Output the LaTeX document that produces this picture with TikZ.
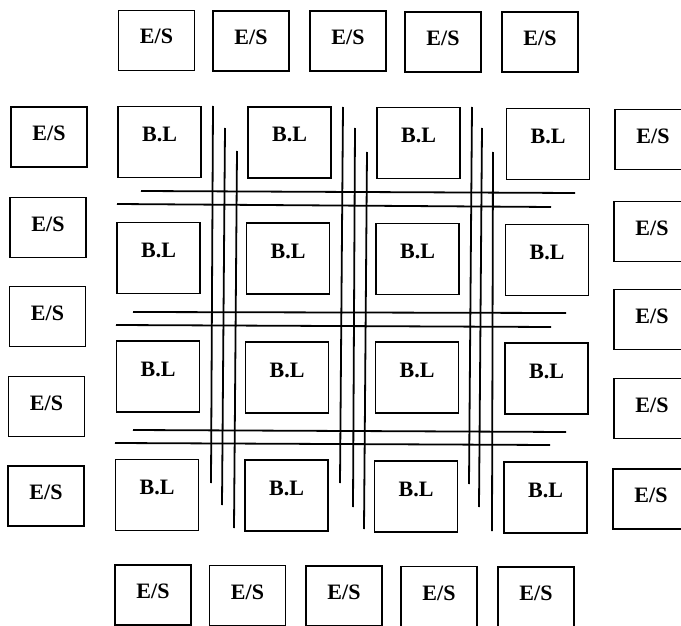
\documentclass[tikz,border=0pt]{standalone}
\usepackage{fontspec}
\setmainfont{Liberation Serif}
\begin{document}
\begin{tikzpicture}[x=1pt,y=-1pt,
  box/.style={draw, line width=1.8pt, outer sep=0pt, inner sep=0pt,
    font=\fontsize{22}{22}\selectfont\bfseries, text height=15pt},
  esbox/.style={box, minimum width=76pt, minimum height=60pt, text depth=8pt},
  blbox/.style={box, minimum width=83pt, minimum height=71pt, text depth=16pt},
  wire/.style={line width=1.8pt}]
\clip (0,0) rectangle (681,626);
\useasboundingbox (0,0) rectangle (681,626);
% top E/S
\node[esbox] (t1) at (156.5,40.5) {E/S};
\node[esbox] (t2) at (251,41) {E/S};
\node[esbox] (t3) at (348,41) {E/S};
\node[esbox] (t4) at (443,42) {E/S};
\node[esbox] (t5) at (540,42) {E/S};
% left E/S
\node[esbox] (l1) at (49,137) {E/S};
\node[esbox] (l2) at (48,227.5) {E/S};
\node[esbox] (l3) at (47.5,316.5) {E/S};
\node[esbox] (l4) at (46.5,406.5) {E/S};
\node[esbox] (l5) at (46,496) {E/S};
% right E/S
\node[esbox] (r1) at (653,139.5) {E/S};
\node[esbox] (r2) at (652,231.5) {E/S};
\node[esbox] (r3) at (652,319.5) {E/S};
\node[esbox] (r4) at (652,408.5) {E/S};
\node[esbox] (r5) at (651,499) {E/S};
% bottom E/S
\node[esbox] (b1) at (153,595) {E/S};
\node[esbox] (b2) at (247.5,595.5) {E/S};
\node[esbox] (b3) at (344,596) {E/S};
\node[esbox] (b4) at (439,596.5) {E/S};
\node[esbox] (b5) at (536,597) {E/S};
% B.L blocks
\node[blbox] (bl11) at (159.5,142) {B.L};
\node[blbox] (bl12) at (289.5,142.5) {B.L};
\node[blbox] (bl13) at (418.5,143) {B.L};
\node[blbox] (bl14) at (548,144) {B.L};
\node[blbox] (bl21) at (158.5,258) {B.L};
\node[blbox] (bl22) at (288,258.5) {B.L};
\node[blbox] (bl23) at (417.5,259) {B.L};
\node[blbox] (bl24) at (547,260) {B.L};
\node[blbox] (bl31) at (158,376.5) {B.L};
\node[blbox] (bl32) at (287,377.5) {B.L};
\node[blbox] (bl33) at (417,377.5) {B.L};
\node[blbox] (bl34) at (546.5,378.5) {B.L};
\node[blbox] (bl41) at (157,495) {B.L};
\node[blbox] (bl42) at (286.5,495.5) {B.L};
\node[blbox] (bl43) at (416,496.5) {B.L};
\node[blbox] (bl44) at (545.5,497.5) {B.L};
% vertical routing lines
\draw[wire] (213,106) -- (211,483);
\draw[wire] (225,128) -- (222,505);
\draw[wire] (237,151) -- (234,528);
\draw[wire] (343,107) -- (340,483);
\draw[wire] (355,128) -- (353,507);
\draw[wire] (367,152) -- (364,529);
\draw[wire] (472,107) -- (469,484);
\draw[wire] (482,128) -- (479,507);
\draw[wire] (493,152) -- (492,531);
% horizontal routing lines
\draw[wire] (141,191) -- (575,193);
\draw[wire] (117,204) -- (551,207);
\draw[wire] (133,312) -- (566,313);
\draw[wire] (116,325) -- (551,327);
\draw[wire] (133,430) -- (566,432);
\draw[wire] (115,443) -- (550,445);
\end{tikzpicture}
\end{document}
